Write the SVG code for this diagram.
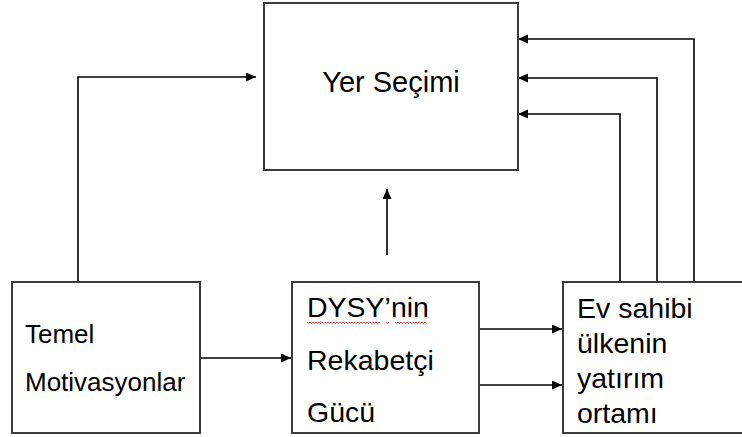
<svg xmlns="http://www.w3.org/2000/svg" width="742" height="437" viewBox="0 0 742 437">
<style>
.box{fill:#fff;stroke:#3c3c3c;stroke-width:2}
.c{fill:none;stroke:#000;stroke-width:1.6}
.t{font-family:"Liberation Sans",Arial,sans-serif;fill:#000}
.sq{fill:none;stroke:#ff3030;stroke-width:0.9}
</style>
<defs>
<marker id="ah" markerUnits="userSpaceOnUse" markerWidth="12" markerHeight="10" refX="10" refY="4.5" orient="auto">
<path d="M0,0 L10,4.5 L0,9 Z" fill="#000"/>
</marker>
</defs>
<rect width="742" height="437" fill="#fff"/>
<g id="connectors">
<path class="c" d="M78,282 V77 H256" marker-end="url(#ah)"/>
<path class="c" d="M200,358 H291" marker-end="url(#ah)"/>
<path class="c" d="M387,255 V189" marker-end="url(#ah)"/>
<path class="c" d="M479,329 H562" marker-end="url(#ah)"/>
<path class="c" d="M479,385 H562" marker-end="url(#ah)"/>
<path class="c" d="M620,282 V114 H518" marker-end="url(#ah)"/>
<path class="c" d="M657,282 V78 H518" marker-end="url(#ah)"/>
<path class="c" d="M694,282 V39 H518" marker-end="url(#ah)"/>
</g>
<g id="yer-secimi">
<rect class="box" x="264" y="3" width="254" height="167"/>
<text class="t" x="391" y="92" font-size="29" text-anchor="middle">Yer Seçimi</text>
</g>
<g id="temel-motivasyonlar">
<rect class="box" x="12" y="282" width="188" height="151"/>
<text class="t" x="25" y="343" font-size="26">Temel</text>
<text class="t" x="25" y="391" font-size="26">Motivasyonlar</text>
</g>
<g id="dysy">
<rect class="box" x="292" y="282" width="187" height="151"/>
<text class="t" x="307" y="317" font-size="28.5">DYSY’nin</text>
<path class="sq" d="M307,322 l1.5,1.5 l1.5,-1.5 l1.5,1.5 l1.5,-1.5 l1.5,1.5 l1.5,-1.5 l1.5,1.5 l1.5,-1.5 l1.5,1.5 l1.5,-1.5 l1.5,1.5 l1.5,-1.5 l1.5,1.5 l1.5,-1.5 l1.5,1.5 l1.5,-1.5 l1.5,1.5 l1.5,-1.5 l1.5,1.5 l1.5,-1.5 l1.5,1.5 l1.5,-1.5 l1.5,1.5 l1.5,-1.5 l1.5,1.5 l1.5,-1.5 l1.5,1.5 l1.5,-1.5 l1.5,1.5 l1.5,-1.5 l1.5,1.5 l1.5,-1.5 l1.5,1.5 l1.5,-1.5 l1.5,1.5 l1.5,-1.5 l1.5,1.5 l1.5,-1.5 l1.5,1.5 l1.5,-1.5 l1.5,1.5 l1.5,-1.5 l1.5,1.5 l1.5,-1.5 l1.5,1.5 l1.5,-1.5 l1.5,1.5 l1.5,-1.5 l1.5,1.5"/>
<path class="sq" d="M386,322 l1.5,1.5 l1.5,-1.5"/>
<path class="sq" d="M395,322 l1.5,1.5 l1.5,-1.5 l1.5,1.5 l1.5,-1.5 l1.5,1.5 l1.5,-1.5 l1.5,1.5 l1.5,-1.5 l1.5,1.5 l1.5,-1.5 l1.5,1.5 l1.5,-1.5 l1.5,1.5 l1.5,-1.5 l1.5,1.5 l1.5,-1.5 l1.5,1.5 l1.5,-1.5 l1.5,1.5 l1.5,-1.5 l1.5,1.5"/>
<text class="t" x="307" y="370" font-size="28.5">Rekabetçi</text>
<text class="t" x="307" y="422" font-size="28.5">Gücü</text>
</g>
<g id="ev-sahibi">
<rect class="box" x="563" y="282" width="190" height="151"/>
<text class="t" x="577" y="318" font-size="28.5">Ev sahibi</text>
<text class="t" x="577" y="353" font-size="28.5">ülkenin</text>
<text class="t" x="577" y="388" font-size="28.5">yatırım</text>
<text class="t" x="577" y="423" font-size="28.5">ortamı</text>
</g>
</svg>
